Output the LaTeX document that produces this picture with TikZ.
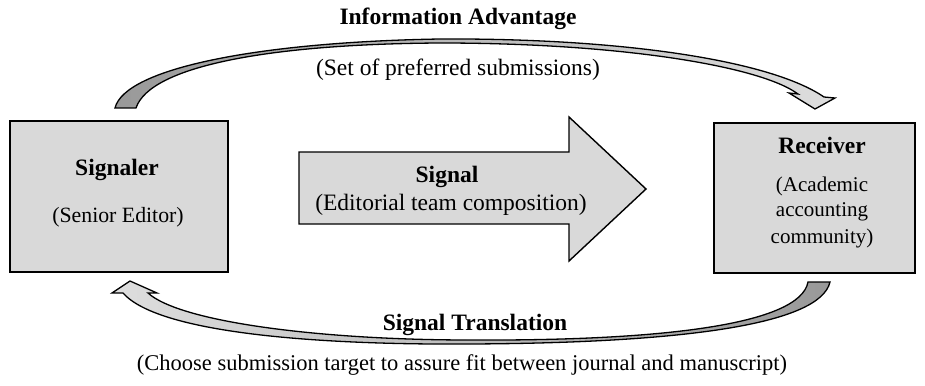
\documentclass[tikz,border=0pt]{standalone}
\usepackage{fontspec}
\setmainfont{Liberation Serif}
\begin{document}
\begin{tikzpicture}[x=1pt,y=-1pt,
  box/.style={draw=black, line width=1.6pt, fill=black!15, inner sep=0pt},
  lbl/.style={font=\fontsize{23.5}{26}\selectfont, anchor=base, inner sep=0pt},
  bl/.style={lbl, font=\fontsize{23.5}{26}\selectfont\bfseries},
  sm/.style={lbl, font=\fontsize{21.5}{26}\selectfont},
  band/.style={draw=black, line width=1.3pt, line join=miter}]
\useasboundingbox (0,0) rectangle (925,385);
\fill[white] (0,0) rectangle (925,385);

% boxes
\node[box, minimum width=218, minimum height=151] (signaler) at (119,196.5) {};
\node[box, minimum width=201, minimum height=150] (receiver) at (814.5,198) {};

% big signal arrow
\draw[box, line width=1.4pt] (299,152) -- (569,152) -- (569,117) -- (646,189)
  -- (569,261) -- (569,224) -- (299,224) -- cycle;

% top curved arrow (Information Advantage)
\shadedraw[band, left color=black!40, right color=black!13]
  (115,108) .. controls (125,68) and (260,42) .. (440,39)
  .. controls (620,38) and (770,60) .. (824,97)
  -- (835,98) -- (815,109) -- (789,93) -- (798,94)
  .. controls (760,66) and (620,43) .. (440,43)
  .. controls (270,44) and (150,66) .. (136,108) -- cycle;

% bottom curved arrow (Signal Translation)
\shadedraw[band, left color=black!13, right color=black!40]
  (830,282) .. controls (820,325) and (680,343) .. (470,344)
  .. controls (330,345) and (160,335) .. (123,293)
  -- (112,293) -- (130,281) -- (157,293) -- (148,293)
  .. controls (180,322) and (320,340) .. (470,340)
  .. controls (660,341) and (800,325) .. (808,282) -- cycle;

% texts
\node[bl] (infoT) at (458,25) {Information Advantage};
\node[lbl] (setT) at (458,76) {(Set of preferred submissions)};
\node[bl] (sigT) at (117,175) {Signaler};
\node[sm, font=\fontsize{21.8}{26}\selectfont] (senT) at (118,222) {(Senior Editor)};
\node[bl] (signalT) at (447,182) {Signal};
\node[lbl] (editT) at (451,210) {(Editorial team composition)};
\node[bl] (recT) at (822,153) {Receiver};
\node[sm, font=\fontsize{21}{26}\selectfont] (acadT) at (822,191) {(Academic};
\node[sm, font=\fontsize{21}{26}\selectfont] (accT) at (822,216) {accounting};
\node[sm, font=\fontsize{21}{26}\selectfont] (comT) at (822,243) {community)};
\node[bl] (transT) at (475,330) {Signal Translation};
\node[lbl, font=\fontsize{22.5}{26}\selectfont] (chooseT) at (462,370) {(Choose submission target to assure fit between journal and manuscript)};
\end{tikzpicture}
\end{document}
